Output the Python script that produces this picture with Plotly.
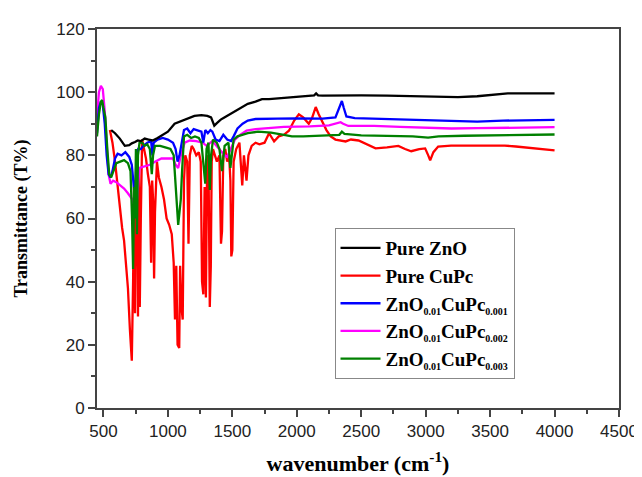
import plotly.graph_objects as go

# ---- data ----
zno_x = [560, 590, 627, 666, 700, 720, 745, 766, 790, 820, 850, 882, 920, 952, 1000, 1052, 1090, 1150, 1206, 1260, 1306, 1335, 1360, 1380, 1410, 1438, 1500, 1569, 1620, 1680, 1730, 1785, 1850, 1900, 1962, 2030, 2100, 2135, 2150, 2165, 2200, 2348, 2500, 2700, 2900, 3100, 3251, 3400, 3550, 3637, 3800, 4000]
zno_y = [88.0, 87.0, 85.3, 83.0, 83.2, 83.8, 84.2, 84.7, 84.5, 85.3, 85.0, 84.7, 85.5, 86.3, 87.5, 90.0, 90.6, 91.5, 92.5, 92.7, 92.5, 92.0, 89.4, 90.2, 91.3, 92.0, 93.5, 95.3, 96.3, 97.0, 97.8, 97.8, 98.0, 98.2, 98.4, 98.6, 98.7, 99.0, 99.6, 99.0, 98.9, 99.0, 99.0, 98.9, 98.7, 98.5, 98.4, 98.7, 99.2, 99.6, 99.6, 99.6]

cupc_x = [550, 570, 590, 610, 630, 645, 660, 675, 690, 705, 720, 730, 738, 745, 752, 760, 768, 775, 782, 790, 800, 815, 830, 845, 860, 870, 878, 885, 893, 900, 915, 930, 950, 970, 990, 1010, 1030, 1045, 1055, 1065, 1075, 1088, 1095, 1105, 1115, 1125, 1135, 1150, 1160, 1170, 1185, 1200, 1220, 1240, 1255, 1265, 1275, 1285, 1295, 1305, 1315, 1325, 1333, 1340, 1350, 1365, 1380, 1400, 1412, 1420, 1430, 1445, 1460, 1475, 1485, 1492, 1500, 1510, 1530, 1555, 1577, 1590, 1610, 1625, 1650, 1680, 1710, 1750, 1785, 1824, 1860, 1900, 1939, 1980, 2016, 2050, 2093, 2120, 2147, 2170, 2194, 2230, 2263, 2300, 2379, 2420, 2479, 2540, 2611, 2700, 2788, 2840, 2888, 2950, 2996, 3020, 3035, 3060, 3097, 3197, 3400, 3614, 3700, 3845, 3900, 4000]
cupc_y = [88.0, 84.0, 78.0, 70.0, 64.0, 57.0, 53.0, 45.0, 38.0, 25.0, 15.0, 40.0, 72.0, 30.0, 70.0, 82.0, 29.0, 75.0, 32.0, 60.0, 85.0, 82.0, 79.0, 74.0, 70.0, 46.0, 72.0, 66.0, 41.0, 62.0, 78.0, 73.0, 70.0, 66.0, 60.0, 58.0, 55.0, 46.0, 28.0, 45.0, 20.0, 19.0, 45.0, 32.0, 28.0, 72.0, 80.0, 78.0, 52.0, 80.0, 83.0, 82.0, 80.0, 81.0, 78.0, 40.0, 36.0, 70.0, 35.0, 80.0, 78.0, 32.0, 45.0, 78.0, 82.0, 80.0, 78.0, 80.0, 52.0, 56.0, 80.0, 82.0, 78.0, 80.0, 72.0, 48.0, 50.0, 78.0, 82.0, 84.0, 70.5, 80.0, 72.0, 80.0, 83.0, 84.0, 83.5, 84.0, 87.0, 84.4, 86.0, 86.5, 87.8, 91.0, 93.0, 92.0, 90.0, 92.0, 95.3, 93.0, 91.0, 88.0, 86.0, 85.0, 84.4, 85.0, 84.7, 83.5, 82.2, 82.5, 83.0, 82.0, 81.3, 82.0, 82.2, 80.0, 78.4, 81.0, 82.8, 83.1, 83.1, 83.1, 82.8, 82.2, 81.8, 81.6]

s1_x = [450, 465, 480, 495, 510, 525, 540, 555, 570, 590, 610, 640, 670, 700, 720, 735, 745, 755, 770, 790, 810, 840, 870, 880, 890, 920, 960, 1000, 1040, 1060, 1075, 1090, 1110, 1125, 1150, 1175, 1200, 1230, 1260, 1275, 1290, 1310, 1330, 1345, 1370, 1400, 1430, 1460, 1490, 1510, 1540, 1580, 1620, 1680, 1750, 1850, 2000, 2200, 2300, 2330, 2350, 2365, 2385, 2450, 2600, 2800, 3000, 3200, 3400, 3600, 3800, 4000]
s1_y = [87.0, 95.0, 97.0, 96.0, 90.0, 80.0, 74.0, 73.0, 75.0, 79.0, 80.5, 80.0, 81.0, 79.5, 77.0, 70.0, 66.0, 78.0, 82.0, 82.0, 83.0, 84.0, 84.5, 80.0, 84.0, 85.0, 85.5, 85.0, 84.0, 82.0, 78.0, 80.0, 84.0, 88.0, 88.5, 87.0, 88.3, 88.0, 87.5, 84.0, 88.0, 87.0, 88.0, 87.5, 85.0, 84.5, 86.5, 85.0, 84.5, 86.0, 88.5, 90.0, 91.0, 91.5, 91.6, 91.6, 91.7, 91.6, 92.0, 95.0, 97.2, 95.0, 92.3, 91.8, 91.6, 91.5, 91.2, 90.8, 90.7, 91.0, 91.2, 91.2]

s2_x = [450, 465, 480, 495, 510, 525, 540, 555, 575, 600, 630, 660, 690, 710, 725, 740, 760, 780, 820, 860, 900, 950, 1000, 1040, 1060, 1080, 1100, 1130, 1170, 1220, 1270, 1300, 1345, 1400, 1440, 1460, 1490, 1520, 1560, 1610, 1680, 1760, 1900, 2100, 2250, 2340, 2360, 2400, 2600, 2800, 3000, 3200, 3400, 3700, 4000]
s2_y = [92.0, 100.0, 102.0, 101.0, 94.0, 82.0, 74.0, 71.0, 72.0, 71.5, 70.5, 69.5, 68.0, 67.0, 66.0, 64.0, 66.0, 76.0, 76.5, 77.0, 78.0, 79.0, 79.0, 79.0, 77.0, 76.0, 80.0, 84.0, 84.7, 84.5, 84.0, 83.0, 84.5, 82.0, 80.0, 79.5, 82.0, 85.0, 86.5, 87.8, 88.3, 88.5, 89.0, 89.2, 89.5, 90.5, 90.0, 89.3, 89.3, 89.0, 88.8, 88.5, 88.6, 88.8, 88.9]

s3_x = [450, 465, 480, 490, 500, 515, 530, 545, 560, 580, 600, 630, 660, 690, 710, 722, 730, 738, 745, 752, 760, 768, 780, 800, 820, 840, 860, 875, 885, 900, 940, 980, 1020, 1045, 1060, 1070, 1080, 1090, 1100, 1110, 1125, 1150, 1180, 1210, 1240, 1260, 1275, 1290, 1300, 1315, 1325, 1335, 1350, 1380, 1400, 1420, 1440, 1470, 1485, 1495, 1510, 1540, 1580, 1620, 1700, 1800, 1900, 1962, 2050, 2200, 2330, 2350, 2370, 2500, 2700, 2900, 3019, 3100, 3300, 3500, 3700, 3900, 4000]
s3_y = [86.0, 93.0, 97.0, 97.5, 95.0, 92.0, 82.0, 74.0, 73.0, 75.0, 77.5, 78.0, 78.5, 77.5, 75.0, 60.0, 44.0, 70.0, 60.0, 82.0, 55.0, 80.0, 84.0, 84.0, 83.0, 83.5, 82.0, 74.0, 80.0, 83.0, 83.0, 82.5, 82.0, 80.0, 70.0, 62.0, 58.0, 62.0, 66.0, 75.0, 86.0, 86.5, 85.5, 86.0, 85.5, 84.0, 78.0, 71.0, 82.0, 84.0, 69.0, 80.0, 85.0, 84.0, 82.0, 75.0, 83.0, 84.0, 76.0, 80.0, 85.0, 86.0, 86.5, 87.0, 87.5, 87.2, 86.5, 86.0, 86.0, 86.2, 86.5, 87.5, 86.8, 86.3, 86.2, 86.0, 85.6, 86.0, 86.2, 86.3, 86.4, 86.6, 86.6]

SUB = '<sub><span style="font-size:10px">{}</span></sub>'
names = ["Pure ZnO", "Pure CuPc",
         "ZnO" + SUB.format("0.01") + "CuPc" + SUB.format("0.001"),
         "ZnO" + SUB.format("0.01") + "CuPc" + SUB.format("0.002"),
         "ZnO" + SUB.format("0.01") + "CuPc" + SUB.format("0.003")]
colors = ["#000000", "#ff0000", "#0000ff", "#ff00ff", "#008000"]

x_ticks = [500, 1000, 1500, 2000, 2500, 3000, 3500, 4000, 4500]
y_ticks = [0, 20, 40, 60, 80, 100, 120]

series = [(zno_x, zno_y), (cupc_x, cupc_y), (s1_x, s1_y), (s2_x, s2_y), (s3_x, s3_y)]
draw_order = [1, 3, 2, 4, 0]

fig = go.Figure()
for i in draw_order:
    xs, ys = series[i]
    fig.add_trace(go.Scatter(
        x=xs, y=ys, mode="lines", name="<b>" + names[i] + "</b>",
        line=dict(color=colors[i], width=2.3), legendrank=i + 1))

axis_common = dict(
    showline=True, linecolor="#444", linewidth=2, mirror=True,
    ticks="outside", ticklen=7, tickwidth=1.5, tickcolor="#444",
    showgrid=False, zeroline=False,
    tickfont=dict(family="Liberation Sans, Arial", size=17, color="#222"),
)

fig.update_layout(
    width=642, height=477,
    margin=dict(l=89, r=28, t=15, b=77),
    paper_bgcolor="white", plot_bgcolor="white",
    xaxis=dict(range=[450, 4500], tickvals=x_ticks,
               minor=dict(ticks="outside", ticklen=4, dtick=250, tick0=500, tickcolor="#444"),
               title=dict(text="<b>wavenumber (cm<sup>-1</sup>)</b>",
                          font=dict(family="Liberation Serif, Times New Roman", size=22, color="#000"),
                          standoff=15),
               **axis_common),
    yaxis=dict(range=[0, 120], tickvals=y_ticks,
               minor=dict(ticks="outside", ticklen=4, dtick=10, tick0=0, tickcolor="#444"),
               title=dict(text="<b>Transmittance (T%)</b>",
                          font=dict(family="Liberation Serif, Times New Roman", size=18, color="#000"),
                          standoff=24),
               **axis_common),
    legend=dict(x=0.455, y=0.475, xanchor="left", yanchor="top",
                bgcolor="white", bordercolor="#888", borderwidth=1,
                font=dict(family="Liberation Serif, Times New Roman", size=19, color="#000"),
                itemwidth=40, tracegroupgap=0),
    showlegend=True,
)

fig.write_html("out.html")
